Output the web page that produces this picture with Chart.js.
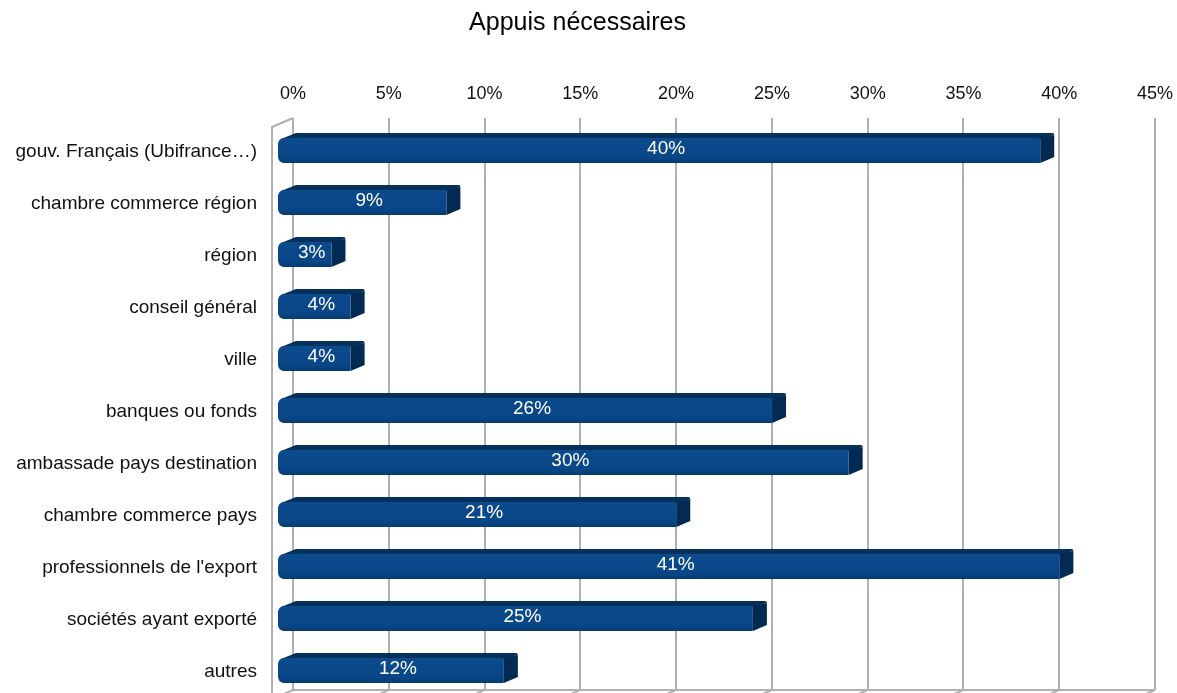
<!DOCTYPE html>
<html>
<head>
<meta charset="utf-8">
<script src="https://cdn.jsdelivr.net/npm/chart.js@4"></script>
<style>
  body { margin: 0; background: #fff; }
  canvas { display: block; }
</style>
</head>
<body>
<canvas id="chart" width="1177" height="693"></canvas>
<script>
// categories and values (%)
const categories = [
  "gouv. Français (Ubifrance…)",
  "chambre commerce région",
  "région",
  "conseil général",
  "ville",
  "banques ou fonds",
  "ambassade pays destination",
  "chambre commerce pays",
  "professionnels de l'export",
  "sociétés ayant exporté",
  "autres"
];
const values = [40, 9, 3, 4, 4, 26, 30, 21, 41, 25, 12];
const axisMax = 45;
const axisStep = 5;

const FONT = "'Liberation Sans', Arial, sans-serif";
const GRID = "#b0b0b0";

// draws each bar as a 3d block (front face, top face, right side) + the value label
const bars3d = {
  id: "bars3d",
  beforeDatasetsDraw(chart) {
    const ctx = chart.ctx;
    const area = chart.chartArea;
    const xs = chart.scales.x;
    ctx.save();
    ctx.strokeStyle = GRID;
    ctx.lineWidth = 2;
    // left wall edge
    ctx.beginPath();
    ctx.moveTo(area.left - 21, area.bottom + 9);
    ctx.lineTo(area.left - 21, area.top + 9);
    ctx.lineTo(area.left, area.top);
    ctx.stroke();
    // floor
    ctx.beginPath();
    ctx.moveTo(area.left, area.bottom);
    ctx.lineTo(area.right, area.bottom);
    xs.ticks.forEach((t) => {
      const x = xs.getPixelForValue(t.value);
      ctx.moveTo(x, area.bottom);
      ctx.lineTo(x - 21, area.bottom + 9);
    });
    ctx.stroke();
    ctx.restore();
  },
  afterDatasetsDraw(chart) {
    const ctx = chart.ctx;
    const meta = chart.getDatasetMeta(0);
    const dx = 14, dy = 5;
    meta.data.forEach((bar, i) => {
      const h = bar.height;
      const x0 = bar.base - 16;
      const x1 = bar.x - 19;
      const top = bar.y - h / 2 + 6.5;
      const bot = top + h;
      ctx.save();

      // top face
      ctx.fillStyle = "#04305c";
      ctx.beginPath();
      ctx.moveTo(x0 + 3, top + 1);
      ctx.lineTo(x0 + dx + 4, top - dy);
      ctx.lineTo(x1 + dx - 2, top - dy);
      ctx.quadraticCurveTo(x1 + dx, top - dy, x1 + dx, top - dy + 2);
      ctx.lineTo(x1, top + 1);
      ctx.closePath();
      ctx.fill();

      // right side
      ctx.fillStyle = "#032a53";
      ctx.beginPath();
      ctx.moveTo(x1, top);
      ctx.lineTo(x1 + dx, top - dy + 2);
      ctx.lineTo(x1 + dx, bot - dy - 1);
      ctx.lineTo(x1, bot);
      ctx.closePath();
      ctx.fill();

      // front face
      const g = ctx.createLinearGradient(0, top, 0, bot);
      g.addColorStop(0, "#0b4a8c");
      g.addColorStop(0.8, "#094686");
      g.addColorStop(1, "#053a70");
      ctx.fillStyle = g;
      ctx.beginPath();
      ctx.roundRect(x0, top, x1 - x0, h, [6, 1, 1, 6]);
      ctx.fill();

      // value label
      ctx.fillStyle = "#ffffff";
      ctx.font = "19px " + FONT;
      ctx.textAlign = "center";
      ctx.textBaseline = "middle";
      ctx.fillText(values[i] + "%", (x0 + x1 + dx) / 2, top + h / 2 - 2);
      ctx.restore();
    });
  }
};

new Chart(document.getElementById("chart").getContext("2d"), {
  type: "bar",
  data: {
    labels: categories,
    datasets: [
      {
        data: values,
        backgroundColor: "rgba(0,0,0,0)",
        borderWidth: 0,
        barThickness: 25
      }
    ]
  },
  plugins: [bars3d],
  options: {
    indexAxis: "y",
    responsive: false,
    animation: false,
    events: [],
    layout: { padding: { left: 0, right: 22, top: 0, bottom: 3 } },
    plugins: {
      legend: { display: false },
      tooltip: { enabled: false },
      title: {
        display: true,
        text: "Appuis nécessaires",
        color: "#000",
        font: { family: FONT, size: 25, weight: "normal" },
        padding: { top: 8, bottom: 0 }
      }
    },
    scales: {
      x: {
        position: "top",
        min: 0,
        max: axisMax,
        afterFit: (scale) => {
          scale.height = 80;
          scale.paddingLeft = 0;
          scale.paddingRight = 0;
        },
        ticks: {
          stepSize: axisStep,
          color: "#111",
          font: { family: FONT, size: 18 },
          padding: 13,
          callback: (v) => v + "%"
        },
        grid: { color: GRID, lineWidth: 2, drawTicks: false },
        border: { display: false }
      },
      y: {
        afterFit: (scale) => {
          scale.width = 293;
          scale.paddingTop = 0;
          scale.paddingBottom = 0;
        },
        ticks: {
          color: "#111",
          font: { family: FONT, size: 19 },
          padding: 36,
          labelOffset: 8
        },
        grid: { display: false, drawTicks: false },
        border: { display: false }
      }
    }
  }
});
</script>
</body>
</html>
